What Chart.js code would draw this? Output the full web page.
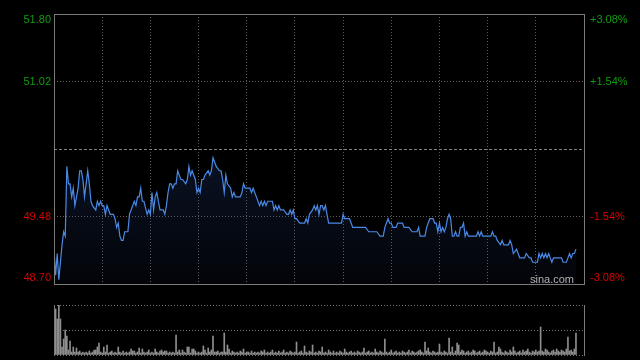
<!DOCTYPE html>
<html>
<head>
<meta charset="utf-8">
<script src="https://cdn.jsdelivr.net/npm/chart.js@4.4.0/dist/chart.umd.min.js"></script>
<style>
  html, body { margin: 0; padding: 0; background: #000; }
  #wrap { position: relative; width: 640px; height: 360px; background: #000; }
  canvas { position: absolute; left: 0; top: 0; }
</style>
</head>
<body>
<div id="wrap">
  <canvas id="volChart" width="640" height="360"></canvas>
  <canvas id="priceChart" width="640" height="360"></canvas>
</div>
<script>
// intraday session: 330 trading minutes, grid every 30 minutes
const sessionMinutes = 330;
const prevClose = 50.25;

// price axis ticks and their labels
const priceTicks = [48.70, 49.475, 50.25, 51.025, 51.80];
const priceLabels = ['48.70', '49.48', '', '51.02', '51.80'];
const pctLabels = ['-3.08%', '-1.54%', '', '+1.54%', '+3.08%'];

// minute offset from the open, last price at that minute
const minutes = [
  0, 1, 2, 3, 4, 5, 6, 7, 8, 9, 10, 11, 12, 13, 15, 16, 17, 18, 19, 21,
  22, 23, 24, 26, 27, 28, 29, 30, 31, 32, 33, 35, 37, 38, 39, 40, 41, 42, 43, 44,
  46, 47, 48, 50, 51, 52, 53, 54, 55, 56, 58, 59, 60, 61, 62, 63, 64, 65, 66, 67,
  68, 69, 70, 71, 72, 73, 74, 75, 76, 77, 78, 79, 80, 82, 83, 84,
  85, 86, 88, 89, 90, 91, 92, 93, 94, 96, 97, 98, 99, 100, 101, 103, 104, 105, 106, 107,
  108, 110, 111, 112, 113, 115, 116, 117, 118, 119, 121, 122, 123, 124, 126, 127, 128, 129, 130, 131,
  132, 133, 135, 136, 137, 138, 139, 140, 141, 143, 145, 146, 147, 148, 149, 150, 151, 153, 154, 156,
  157, 158, 159, 161, 162, 163, 164, 165, 166,
  167, 168, 169, 170, 171, 173, 174, 175, 177, 179, 180, 181, 182, 183, 184, 185, 186, 188, 190, 192,
  194, 196, 198, 200, 201, 203, 205, 206, 207, 208, 209, 210, 211, 213, 214, 216, 217, 218, 220, 221,
  223, 224, 226, 227, 228, 229, 231, 232, 233, 234, 236, 237, 238, 239, 240, 241, 242, 243, 244, 245,
  246, 247, 248,
  249, 250, 251, 252, 253, 254, 255, 256, 257, 258, 259, 261, 263, 264, 265, 266, 267, 269, 271, 272,
  273, 274, 275, 276, 278, 279, 280, 281, 283, 284, 285, 286, 288, 289, 290, 291, 293, 294, 296, 297,
  298, 300, 301, 302, 303, 304, 305, 306, 307, 308, 309, 310, 311, 312, 313, 314, 316, 317, 318, 319,
  320, 321, 322, 323, 324, 325
];
const prices = [
  49.10, 48.80, 49.05, 48.75, 48.95, 49.15, 49.30, 49.25, 50.05, 49.85, 49.85, 49.70, 49.80, 49.60, 49.80, 50.00, 50.00, 49.90, 49.70, 50.00,
  49.85, 49.65, 49.60, 49.55, 49.65, 49.60, 49.65, 49.60, 49.60, 49.50, 49.60, 49.50, 49.50, 49.45, 49.35, 49.40, 49.25, 49.20, 49.20, 49.30,
  49.30, 49.50, 49.55, 49.65, 49.60, 49.70, 49.70, 49.80, 49.65, 49.65, 49.50, 49.55, 49.50, 49.75, 49.55, 49.70, 49.75, 49.65, 49.55, 49.55,
  49.55, 49.50, 49.60, 49.75, 49.85, 49.85, 49.80, 49.85, 49.85, 50.00, 49.95, 49.90, 49.90, 49.85, 49.90, 50.05,
  49.95, 50.00, 49.90, 49.75, 49.80, 49.75, 49.90, 49.90, 49.95, 50.00, 49.95, 50.00, 50.15, 50.10, 50.05, 50.00, 50.00, 49.90, 49.75, 49.95,
  49.85, 49.80, 49.70, 49.75, 49.70, 49.70, 49.70, 49.75, 49.85, 49.80, 49.80, 49.80, 49.75, 49.80, 49.70, 49.65, 49.60, 49.65, 49.60, 49.65,
  49.60, 49.65, 49.65, 49.65, 49.55, 49.60, 49.55, 49.60, 49.55, 49.55, 49.50, 49.50, 49.55, 49.50, 49.55, 49.45, 49.45, 49.40, 49.40, 49.40,
  49.45, 49.40, 49.50, 49.55, 49.60, 49.55, 49.60, 49.50, 49.60,
  49.60, 49.55, 49.60, 49.50, 49.40, 49.40, 49.40, 49.40, 49.40, 49.40, 49.50, 49.45, 49.45, 49.45, 49.45, 49.40, 49.35, 49.35, 49.35, 49.35,
  49.35, 49.30, 49.30, 49.30, 49.30, 49.25, 49.25, 49.35, 49.40, 49.45, 49.40, 49.40, 49.35, 49.35, 49.40, 49.40, 49.40, 49.35, 49.35, 49.35,
  49.30, 49.30, 49.30, 49.35, 49.25, 49.25, 49.25, 49.35, 49.40, 49.45, 49.45, 49.40, 49.40, 49.30, 49.40, 49.30, 49.35, 49.30, 49.35, 49.45,
  49.50, 49.45, 49.25,
  49.25, 49.30, 49.25, 49.25, 49.35, 49.35, 49.40, 49.25, 49.30, 49.25, 49.25, 49.25, 49.25, 49.30, 49.25, 49.30, 49.25, 49.25, 49.25, 49.25,
  49.30, 49.25, 49.25, 49.20, 49.15, 49.20, 49.15, 49.15, 49.15, 49.20, 49.15, 49.05, 49.10, 49.05, 49.00, 49.00, 49.00, 49.05, 49.00, 49.00,
  48.95, 48.95, 48.95, 49.05, 49.00, 49.05, 49.00, 49.05, 49.00, 49.05, 49.00, 48.95, 49.00, 49.00, 49.00, 49.00, 49.00, 48.95, 48.95, 48.95,
  49.00, 49.05, 49.00, 49.05, 49.05, 49.10
];

// volume per minute (thousand shares), minute 0 .. 325
const volumes = [
  37, 46, 36, 50, 36, 8, 16, 25, 19, 5, 14, 3, 8, 3, 7, 3, 4, 2, 3, 2,
  3, 2, 4, 2, 3, 5, 5, 8, 12, 3, 2, 8, 3, 10, 2, 3, 4, 2, 3, 2,
  8, 3, 2, 4, 2, 3, 2, 3, 6, 4, 4, 2, 3, 7, 2, 6, 3, 2, 3, 5,
  2, 3, 2, 6, 3, 2, 4, 5, 3, 4, 4, 2, 3, 2, 3, 2, 20, 3, 5, 2,
  5, 3, 2, 8, 8, 2, 6, 6, 4, 2, 3, 2, 3, 9, 5, 2, 7, 3, 5, 19,
  3, 3, 4, 2, 3, 3, 22, 3, 10, 6, 2, 4, 3, 2, 3, 2, 4, 3, 6, 2,
  3, 3, 2, 4, 2, 3, 2, 3, 2, 4, 3, 5, 2, 3, 2, 3, 5, 2, 3, 2,
  4, 2, 3, 5, 2, 3, 2, 4, 3, 2, 3, 13, 2, 3, 4, 2, 9, 3, 2, 4,
  3, 10, 2, 3, 2, 4, 3, 8, 2, 3, 2, 5, 3, 2, 4, 2, 3, 2, 4, 3,
  2, 6, 3, 2, 3, 4, 2, 3, 2, 4, 3, 2, 3, 7, 2, 3, 4, 2, 3, 2,
  6, 3, 2, 4, 3, 2, 16, 3, 2, 3, 5, 2, 3, 4, 2, 3, 2, 4, 3, 2,
  3, 5, 2, 4, 3, 2, 3, 4, 5, 3, 2, 13, 4, 7, 3, 2, 4, 3, 2, 3,
  11, 3, 2, 4, 3, 2, 17, 3, 8, 2, 4, 12, 10, 3, 5, 4, 2, 3, 4, 2,
  3, 5, 4, 2, 3, 4, 2, 3, 5, 4, 3, 2, 4, 3, 13, 2, 3, 8, 6, 3,
  2, 4, 3, 2, 5, 3, 8, 4, 2, 3, 4, 2, 5, 3, 4, 6, 3, 2, 4, 3,
  5, 3, 4, 28, 4, 3, 6, 5, 3, 2, 4, 5, 3, 6, 4, 3, 5, 4, 3, 6,
  18, 4, 5, 3, 6, 22
];
const volTicks = [0, 25, 50];

const upColor = '#129a12';
const downColor = '#d40000';
const gridColor = '#5e5e5e';
const frameColor = '#7a7a7a';
const labelFont = '11px "Liberation Sans", Arial, sans-serif';

// frame, side labels and site mark for the price panel
const priceDecor = {
  id: 'priceDecor',
  afterDraw(chart) {
    const { ctx, chartArea: a, scales: { y } } = chart;
    ctx.save();
    ctx.strokeStyle = frameColor;
    ctx.lineWidth = 1;
    ctx.strokeRect(a.left + 0.5, a.top + 0.5, a.right - a.left, a.bottom - a.top);

    ctx.font = labelFont;
    ctx.textBaseline = 'middle';
    priceTicks.forEach((v, i) => {
      if (!priceLabels[i]) return;
      let py = y.getPixelForValue(v);
      py = Math.min(Math.max(py, a.top + 6), a.bottom - 6);
      ctx.fillStyle = v > prevClose ? upColor : downColor;
      ctx.textAlign = 'right';
      ctx.fillText(priceLabels[i], a.left - 3, py);
      ctx.textAlign = 'left';
      ctx.fillText(pctLabels[i], a.right + 6, py);
    });

    ctx.fillStyle = '#b0b0b0';
    ctx.textAlign = 'right';
    ctx.fillText('sina.com', a.right - 10, a.bottom - 4);
    ctx.restore();
  }
};

// solid side edges for the volume panel
const volDecor = {
  id: 'volDecor',
  afterDraw(chart) {
    const { ctx, chartArea: a } = chart;
    ctx.save();
    ctx.strokeStyle = frameColor;
    ctx.lineWidth = 1;
    ctx.beginPath();
    ctx.moveTo(a.left + 0.5, a.top);
    ctx.lineTo(a.left + 0.5, a.bottom + 1);
    ctx.moveTo(a.right + 0.5, a.top);
    ctx.lineTo(a.right + 0.5, a.bottom + 1);
    ctx.stroke();
    ctx.restore();
  }
};

new Chart(document.getElementById('priceChart'), {
  type: 'line',
  data: {
    datasets: [{
      data: minutes.map((m, i) => ({ x: m, y: prices[i] })),
      borderColor: '#4a8ae6',
      borderWidth: 1.2,
      pointRadius: 0,
      tension: 0,
      fill: 'start',
      backgroundColor: (c) => {
        const a = c.chart.chartArea;
        if (!a) return 'transparent';
        const g = c.chart.ctx.createLinearGradient(0, a.top, 0, a.bottom);
        g.addColorStop(0, 'rgba(40,70,140,0.34)');
        g.addColorStop(0.55, 'rgba(40,70,140,0.24)');
        g.addColorStop(1, 'rgba(40,70,140,0.06)');
        return g;
      }
    }]
  },
  options: {
    responsive: false,
    animation: false,
    layout: { padding: { left: 54, right: 56, top: 14, bottom: 76 } },
    plugins: { legend: { display: false }, tooltip: { enabled: false } },
    scales: {
      x: {
        type: 'linear',
        min: 0,
        max: sessionMinutes,
        ticks: { display: false, stepSize: 30 },
        grid: { color: gridColor, drawTicks: false },
        border: { display: false, dash: [1, 2] }
      },
      y: {
        min: 48.70,
        max: 51.80,
        afterBuildTicks: (s) => { s.ticks = priceTicks.map(v => ({ value: v })); },
        ticks: { display: false },
        grid: {
          drawTicks: false,
          color: (c) => (c.tick && c.tick.value === prevClose ? '#858585' : gridColor)
        },
        border: {
          display: false,
          dash: (c) => (c.tick && c.tick.value === prevClose ? [3, 2] : [1, 2])
        }
      }
    }
  },
  plugins: [priceDecor]
});

new Chart(document.getElementById('volChart'), {
  type: 'bar',
  data: {
    datasets: [{
      data: volumes.map((v, i) => ({ x: i, y: v })),
      backgroundColor: '#8e8e8e',
      barThickness: 1
    }]
  },
  options: {
    responsive: false,
    animation: false,
    layout: { padding: { left: 54, right: 56, top: 305, bottom: 5 } },
    plugins: { legend: { display: false }, tooltip: { enabled: false } },
    scales: {
      x: {
        type: 'linear',
        min: 0,
        max: sessionMinutes,
        offset: false,
        ticks: { display: false },
        grid: { display: false, drawTicks: false },
        border: { display: false }
      },
      y: {
        min: 0,
        max: 50,
        afterBuildTicks: (s) => { s.ticks = volTicks.map(v => ({ value: v })); },
        ticks: { display: false },
        grid: { color: '#777', drawTicks: false },
        border: { display: false, dash: [1, 2] }
      }
    }
  },
  plugins: [volDecor]
});
</script>
</body>
</html>
